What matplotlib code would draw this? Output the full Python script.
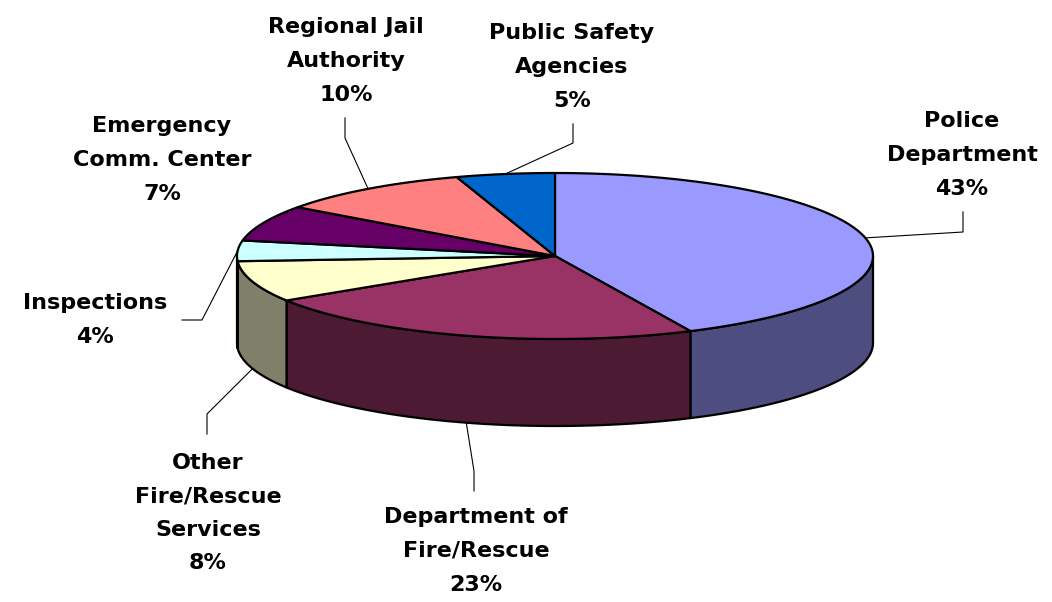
import numpy as np
import matplotlib
matplotlib.use("Agg")
import matplotlib.pyplot as plt
from matplotlib.patches import Polygon

# data (percent), clockwise from 12 o'clock
labels = ["Police\nDepartment", "Department of\nFire/Rescue", "Other\nFire/Rescue\nServices",
          "Inspections", "Emergency\nComm. Center", "Regional Jail\nAuthority",
          "Public Safety\nAgencies"]
values = [43, 23, 8, 4, 7, 10, 5]
top_colors = ["#9999FF", "#993366", "#FFFFCC", "#CCFFFF", "#660066", "#FF8080", "#0066CC"]
side_colors = ["#4D4D80", "#4D1A33", "#80806A", "#668080", "#330033", "#804040", "#003366"]

# label layout (pixel coords: text center, leader elbow, leader end)
label_pos = [(962, 155), (476, 551), (208, 513), (95, 320), (162, 160), (346, 61), (572, 67)]
elbows = [(963, 232), (474, 471), (207, 414), (202, 320), None, (345, 138), (573, 143)]
ends = [(963, 212), (474, 491), (207, 434), (182, 320), None, (345, 118), (573, 124)]

# pie geometry
cx, cy, rx, ry, depth = 555, 256, 318, 83, 87


def pt(theta, dy=0):
    t = np.radians(theta)
    return cx + rx * np.sin(t), cy - ry * np.cos(t) + dy


fig = plt.figure(figsize=(10.52, 6.02), dpi=100)
ax = fig.add_axes([0, 0, 1, 1])
ax.set_xlim(0, 1052)
ax.set_ylim(602, 0)
ax.axis("off")

fracs = np.array(values) / sum(values) * 360
starts = np.concatenate([[0], np.cumsum(fracs)[:-1]])

# side walls (front half only)
for a, f, c in zip(starts, fracs, side_colors):
    lo, hi = max(a, 90), min(a + f, 270)
    if hi <= lo:
        continue
    th = np.linspace(lo, hi, 80)
    x, y = pt(th)
    xb, yb = pt(th[::-1], depth)
    poly = np.column_stack([np.concatenate([x, xb]), np.concatenate([y, yb])])
    ax.add_patch(Polygon(poly, closed=True, facecolor=c, edgecolor="black", lw=1.6,
                         joinstyle="round", zorder=1))

# top faces
for a, f, c in zip(starts, fracs, top_colors):
    th = np.linspace(a, a + f, 100)
    x, y = pt(th)
    poly = np.column_stack([np.concatenate([[cx], x]), np.concatenate([[cy], y])])
    ax.add_patch(Polygon(poly, closed=True, facecolor=c, edgecolor="black", lw=1.6,
                         joinstyle="round", zorder=2))

# labels and leader lines
for a, f, lab, v, pos, el, en in zip(starts, fracs, labels, values, label_pos, elbows, ends):
    mid = a + f / 2
    ax.text(pos[0], pos[1], lab + "\n" + str(v) + "%", ha="center", va="center",
            fontsize=16, fontweight="bold", family="DejaVu Sans", linespacing=1.85, zorder=4)
    if el is None:
        continue
    dy = depth if np.cos(np.radians(mid)) < 0 else 0
    sx, sy = pt(mid, dy)
    ax.plot([sx, el[0], en[0]], [sy, el[1], en[1]], color="black", lw=0.8, zorder=3)

fig.savefig("out.png", dpi=100, facecolor="white")
